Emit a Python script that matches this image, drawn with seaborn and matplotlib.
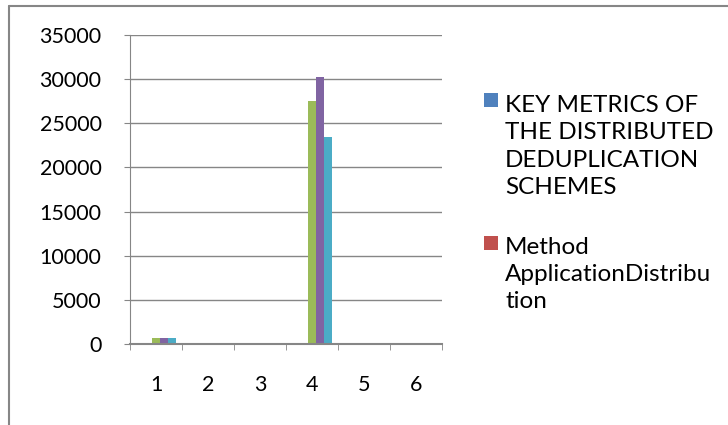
import pandas as pd
import numpy as np
import matplotlib
matplotlib.use("Agg")
import matplotlib.pyplot as plt
from matplotlib.patches import Rectangle
from matplotlib.lines import Line2D
import seaborn as sns

# %%
categories = ["1", "2", "3", "4", "5", "6"]
series_names = ["KEY METRICS OF THE DISTRIBUTED DEDUPLICATION SCHEMES",
                "Method ApplicationDistribution",
                "Series 3", "Series 4", "Series 5"]
s1 = [0, 0, 0, 0, 0, 0]
s2 = [0, 0, 0, 0, 0, 0]
s3 = [650, 0, 0, 27500, 0, 0]
s4 = [650, 0, 0, 30200, 0, 0]
s5 = [650, 0, 0, 23500, 0, 0]
colors = ["#4F81BD", "#C0504D", "#9BBB59", "#8064A2", "#4BACC6"]
legend_labels = ["KEY METRICS OF\nTHE DISTRIBUTED\nDEDUPLICATION\nSCHEMES",
                 "Method\nApplicationDistribu\ntion"]

df = pd.DataFrame({
    "category": categories * 5,
    "series": np.repeat(series_names, len(categories)),
    "value": s1 + s2 + s3 + s4 + s5,
})

# %%
sns.set_style("white")
plt.rcParams["font.family"] = ["Lato", "DejaVu Sans"]
grid_c = "#868686"
W, H = 728, 425

fig = plt.figure(figsize=(7.28, 4.25), dpi=100)
ax = fig.add_axes([130 / W, 1 - 344 / H, 312 / W, 309 / H])

sns.barplot(data=df, x="category", y="value", hue="series", palette=colors,
            width=5 / 6.5, saturation=1, ax=ax, legend=False, linewidth=0)

ax.set_xlim(-0.5, 5.5)
ax.set_ylim(0, 35000)
ax.set_yticks(range(0, 35001, 5000))
ax.set_xlabel("")
ax.set_ylabel("")
ax.yaxis.grid(True, color=grid_c, linewidth=1)
ax.set_axisbelow(True)
for s in ["top", "right"]:
    ax.spines[s].set_visible(False)
ax.spines["left"].set_color(grid_c)
ax.spines["bottom"].set_color(grid_c)
ax.spines["bottom"].set_linewidth(1.5)

ax.tick_params(axis="y", direction="out", length=4.5, color=grid_c, pad=16,
               labelsize=15.5, labelcolor="black", left=True)
ax.tick_params(axis="x", which="major", length=0, pad=22, labelsize=15.5,
               labelcolor="black")
ax.set_xticks(np.arange(-0.5, 6, 1), minor=True)
ax.tick_params(axis="x", which="minor", direction="out", length=4.5,
               color=grid_c, bottom=True)

# legend, drawn by hand so the squares sit on the first line of each entry
first_line = [100, 243]
block_mid = [146.5, 274.5]
for lab, c, y0, ym in zip(legend_labels, colors[:2], first_line, block_mid):
    fig.add_artist(Rectangle((484 / W, 1 - (y0 + 7) / H), 14 / W, 14 / H,
                             transform=fig.transFigure, facecolor=c,
                             edgecolor="none"))
    fig.text(505 / W, 1 - ym / H, lab, ha="left", va="center",
             fontsize=17.5, linespacing=1.38, color="black")

# outer frame
fig.add_artist(Line2D([8.5 / W, 8.5 / W], [0, 1 - 5.5 / H],
                      transform=fig.transFigure, color=grid_c, linewidth=1.5))
fig.add_artist(Line2D([8.5 / W, 1], [1 - 5.5 / H, 1 - 5.5 / H],
                      transform=fig.transFigure, color=grid_c, linewidth=1.5))

fig.savefig("out.png", dpi=100)
